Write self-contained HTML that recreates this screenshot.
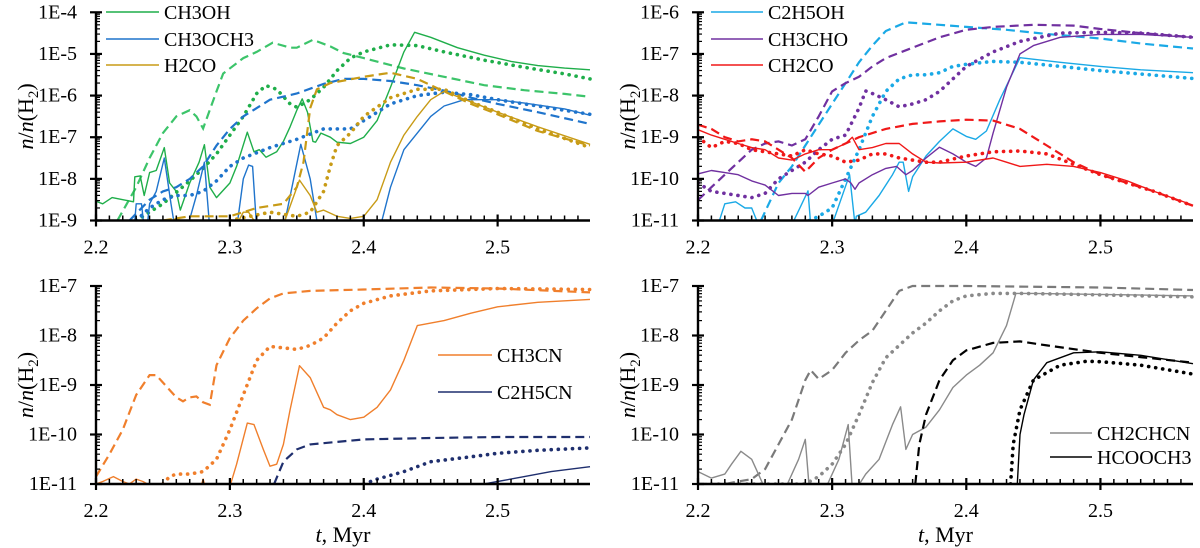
<!DOCTYPE html>
<html><head><meta charset="utf-8">
<style>
html,body{margin:0;padding:0;background:#fff;}
svg{display:block;}
svg text{font-family:"Liberation Serif","DejaVu Serif",serif;}
</style></head>
<body>
<svg id="chart" width="1200" height="548" viewBox="0 0 1200 548" xmlns="http://www.w3.org/2000/svg" font-family="Liberation Serif, serif">
</svg>
<script>
const xTickLabels = ["2.2","2.3","2.4","2.5"];
const xTickValues = [2.2,2.3,2.4,2.5];
const yTicksP1 = [-4,-5,-6,-7,-8,-9];
const yTicksP2 = [-6,-7,-8,-9,-10,-11];
const yTicksP3 = [-7,-8,-9,-10,-11];
const yTicksP4 = [-7,-8,-9,-10,-11];
const ch3oh_solid=[[2.2,-8.54],[2.205,-8.6],[2.212,-8.45],[2.22,-8.5],[2.228,-8.55],[2.229,-7.95],[2.233,-7.93],[2.236,-8.4],[2.24,-7.85],[2.245,-7.8],[2.251,-7.25],[2.255,-8.1],[2.26,-8.3],[2.263,-8.75],[2.27,-8.1],[2.277,-7.6],[2.281,-7.18],[2.285,-8.2],[2.29,-8.45],[2.3,-8.1],[2.305,-7.7],[2.313,-6.88],[2.318,-7.35],[2.322,-7.3],[2.327,-7.48],[2.335,-7.35],[2.34,-7.1],[2.345,-6.75],[2.35,-6.35],[2.354,-6.08],[2.358,-6.4],[2.362,-7.1],[2.364,-7.12],[2.368,-6.9],[2.375,-7.0],[2.38,-7.12],[2.39,-7.15],[2.4,-7.0],[2.41,-6.6],[2.42,-5.8],[2.43,-4.95],[2.438,-4.48],[2.45,-4.6],[2.47,-4.85],[2.49,-5.03],[2.51,-5.18],[2.53,-5.28],[2.55,-5.34],[2.569,-5.38]];
const ch3oh_dashed=[[2.216,-9],[2.23,-8.2],[2.24,-7.5],[2.25,-6.9],[2.26,-6.5],[2.27,-6.35],[2.275,-6.5],[2.28,-6.79],[2.29,-5.9],[2.295,-5.47],[2.31,-5.1],[2.32,-4.95],[2.332,-4.73],[2.345,-4.85],[2.35,-4.85],[2.362,-4.66],[2.375,-4.82],[2.385,-4.98],[2.4,-5.1],[2.43,-5.35],[2.46,-5.55],[2.49,-5.75],[2.52,-5.87],[2.55,-5.96],[2.569,-6.03]];
const ch3oh_dotted=[[2.23,-9],[2.25,-8.6],[2.27,-8.05],[2.28,-7.75],[2.29,-7.4],[2.3,-6.95],[2.31,-6.5],[2.32,-5.95],[2.327,-5.76],[2.335,-5.85],[2.345,-6.2],[2.35,-6.28],[2.36,-6.1],[2.37,-5.8],[2.38,-5.4],[2.39,-5.1],[2.4,-4.95],[2.42,-4.78],[2.44,-4.8],[2.46,-4.95],[2.49,-5.15],[2.52,-5.32],[2.55,-5.48],[2.569,-5.6]];
const ch3och3_solid=[[2.229,-9],[2.23,-8.6],[2.234,-8.6],[2.236,-9.2],null,[2.238,-9.2],[2.24,-8.6],[2.245,-8.3],[2.251,-7.5],[2.256,-8.6],[2.259,-9.2],null,[2.268,-9.2],[2.275,-8.4],[2.281,-7.6],[2.285,-9.2],null,[2.305,-9.2],[2.31,-8],[2.314,-7.67],[2.317,-7.7],[2.32,-9.2],null,[2.34,-9.2],[2.353,-7.17],[2.36,-8],[2.366,-9.2],null,[2.412,-9.2],[2.42,-8.2],[2.43,-7.3],[2.44,-6.9],[2.45,-6.5],[2.46,-6.25],[2.475,-6.1],[2.5,-6.1],[2.52,-6.18],[2.55,-6.32],[2.569,-6.47]];
const ch3och3_dashed=[[2.225,-9],[2.24,-8.5],[2.25,-8.3],[2.26,-8.2],[2.27,-8.0],[2.28,-7.7],[2.29,-7.2],[2.3,-6.8],[2.31,-6.5],[2.32,-6.3],[2.33,-6.1],[2.35,-5.95],[2.37,-5.72],[2.385,-5.6],[2.4,-5.6],[2.42,-5.65],[2.44,-5.75],[2.46,-5.88],[2.48,-6.05],[2.5,-6.2],[2.53,-6.4],[2.569,-6.68]];
const ch3och3_dotted=[[2.23,-9],[2.24,-8.7],[2.25,-8.5],[2.26,-8.4],[2.27,-8.4],[2.28,-8.3],[2.29,-8.05],[2.3,-7.7],[2.31,-7.5],[2.33,-7.25],[2.35,-7.05],[2.37,-6.8],[2.38,-6.8],[2.39,-6.8],[2.4,-6.6],[2.42,-6.2],[2.44,-6.0],[2.46,-5.92],[2.48,-5.98],[2.5,-6.1],[2.53,-6.25],[2.569,-6.45]];
const h2co_solid=[[2.25,-9.1],[2.26,-8.95],[2.27,-9.1],null,[2.305,-9.1],[2.31,-8.8],[2.314,-8.8],[2.32,-9.1],null,[2.34,-9.1],[2.352,-8.03],[2.36,-8.4],[2.365,-8.8],[2.37,-8.75],[2.38,-8.9],[2.39,-8.95],[2.4,-8.9],[2.41,-8.5],[2.42,-7.6],[2.43,-6.95],[2.44,-6.5],[2.45,-6.1],[2.46,-5.9],[2.48,-6.15],[2.5,-6.4],[2.53,-6.75],[2.569,-7.17]];
const h2co_dashed=[[2.25,-9],[2.27,-8.9],[2.3,-8.9],[2.32,-8.7],[2.34,-8.6],[2.35,-8.2],[2.355,-7.6],[2.36,-6.3],[2.365,-5.85],[2.375,-5.7],[2.4,-5.55],[2.42,-5.45],[2.44,-5.6],[2.46,-5.9],[2.48,-6.2],[2.5,-6.45],[2.53,-6.85],[2.569,-7.2]];
const h2co_dotted=[[2.3,-9],[2.33,-8.8],[2.35,-8.9],[2.36,-8.8],[2.37,-8.3],[2.375,-7.7],[2.38,-7.2],[2.39,-6.9],[2.4,-6.5],[2.42,-6.05],[2.44,-5.85],[2.46,-5.85],[2.48,-6.15],[2.5,-6.4],[2.53,-6.8],[2.569,-7.25]];

const c2h5oh_solid=[[2.215,-11.1],[2.22,-10.6],[2.228,-10.55],[2.235,-10.7],[2.24,-10.7],[2.245,-11.1],null,[2.27,-11.1],[2.282,-10.29],[2.284,-11.1],null,[2.3,-11.1],[2.313,-9.9],[2.317,-11.1],[2.318,-10.9],[2.325,-10.8],[2.335,-10.4],[2.345,-9.9],[2.35,-9.6],[2.353,-9.6],[2.357,-10.3],[2.36,-9.95],[2.37,-9.45],[2.38,-9.1],[2.39,-8.8],[2.4,-8.98],[2.407,-9.05],[2.415,-8.85],[2.425,-8.1],[2.44,-7.09],[2.47,-7.2],[2.5,-7.3],[2.53,-7.38],[2.569,-7.45]];
const c2h5oh_dashed=[[2.247,-11],[2.26,-10.1],[2.27,-9.7],[2.28,-9.2],[2.29,-8.7],[2.3,-8.2],[2.31,-7.7],[2.32,-7.2],[2.33,-6.8],[2.34,-6.45],[2.355,-6.24],[2.38,-6.3],[2.4,-6.35],[2.43,-6.42],[2.46,-6.52],[2.5,-6.63],[2.53,-6.75],[2.569,-6.87]];
const c2h5oh_dotted=[[2.283,-11],[2.29,-10.9],[2.3,-10.7],[2.31,-10],[2.32,-9.3],[2.33,-8.5],[2.34,-7.9],[2.35,-7.6],[2.36,-7.5],[2.37,-7.5],[2.38,-7.45],[2.39,-7.3],[2.4,-7.25],[2.42,-7.18],[2.44,-7.2],[2.47,-7.3],[2.5,-7.4],[2.569,-7.59]];
const ch3cho_solid=[[2.2,-9.88],[2.21,-9.8],[2.22,-9.85],[2.23,-9.9],[2.24,-10.05],[2.25,-10.15],[2.26,-10.4],[2.27,-10.35],[2.28,-10.35],[2.282,-10.4],[2.29,-10.2],[2.3,-10.1],[2.31,-10.0],[2.314,-10.1],[2.317,-10.25],[2.32,-10.1],[2.33,-9.9],[2.34,-9.75],[2.348,-9.7],[2.355,-9.9],[2.36,-9.8],[2.37,-9.5],[2.38,-9.24],[2.39,-9.4],[2.4,-9.6],[2.407,-9.7],[2.415,-9.5],[2.42,-8.9],[2.43,-7.8],[2.44,-7.0],[2.45,-6.8],[2.47,-6.6],[2.5,-6.53],[2.53,-6.53],[2.569,-6.6]];
const ch3cho_dashed=[[2.2,-10.51],[2.21,-10.2],[2.22,-9.9],[2.23,-9.6],[2.24,-9.3],[2.25,-9.15],[2.26,-9.1],[2.27,-9.2],[2.28,-9.05],[2.29,-8.5],[2.3,-7.9],[2.31,-7.7],[2.32,-7.55],[2.33,-7.3],[2.34,-7.1],[2.36,-6.85],[2.38,-6.6],[2.4,-6.42],[2.42,-6.35],[2.45,-6.3],[2.48,-6.32],[2.5,-6.4],[2.53,-6.5],[2.569,-6.6]];
const ch3cho_dotted=[[2.2,-10.1],[2.21,-10.3],[2.22,-10.35],[2.24,-10.45],[2.25,-10.35],[2.26,-10.0],[2.27,-9.8],[2.28,-9.6],[2.29,-9.3],[2.3,-9.05],[2.31,-8.95],[2.32,-8.3],[2.325,-7.89],[2.33,-7.95],[2.34,-8.1],[2.35,-8.27],[2.36,-8.2],[2.37,-8.1],[2.38,-7.9],[2.39,-7.6],[2.4,-7.3],[2.42,-6.95],[2.44,-6.7],[2.47,-6.5],[2.5,-6.48],[2.53,-6.5],[2.569,-6.6]];
const ch2co_solid=[[2.2,-8.82],[2.21,-8.95],[2.22,-9.05],[2.23,-9.15],[2.24,-9.25],[2.25,-9.3],[2.26,-9.5],[2.27,-9.55],[2.28,-9.4],[2.29,-9.3],[2.3,-9.3],[2.31,-9.15],[2.315,-9.0],[2.32,-9.3],[2.33,-9.25],[2.34,-9.15],[2.35,-9.15],[2.36,-9.4],[2.37,-9.6],[2.38,-9.62],[2.4,-9.6],[2.42,-9.5],[2.43,-9.6],[2.44,-9.7],[2.46,-9.65],[2.48,-9.7],[2.5,-9.85],[2.52,-10.05],[2.54,-10.3],[2.569,-10.63]];
const ch2co_dashed=[[2.2,-8.7],[2.21,-8.8],[2.22,-9.0],[2.23,-9.1],[2.24,-9.05],[2.25,-9.1],[2.26,-9.3],[2.27,-9.5],[2.28,-9.83],[2.29,-9.5],[2.3,-9.3],[2.32,-9.0],[2.34,-8.8],[2.36,-8.68],[2.38,-8.62],[2.4,-8.58],[2.42,-8.6],[2.44,-8.8],[2.46,-9.2],[2.48,-9.6],[2.5,-9.9],[2.52,-10.1],[2.54,-10.3],[2.569,-10.65]];
const ch2co_dotted=[[2.2,-9.0],[2.21,-9.25],[2.22,-9.1],[2.23,-9.15],[2.24,-9.3],[2.25,-9.35],[2.26,-9.4],[2.27,-9.45],[2.28,-9.3],[2.29,-9.4],[2.3,-9.45],[2.31,-9.6],[2.32,-9.55],[2.33,-9.4],[2.34,-9.4],[2.35,-9.5],[2.36,-9.55],[2.37,-9.6],[2.38,-9.6],[2.4,-9.45],[2.42,-9.35],[2.44,-9.33],[2.46,-9.4],[2.48,-9.65],[2.5,-9.9],[2.54,-10.3],[2.569,-10.65]];

const ch3cn_solid=[[2.2,-11],[2.205,-10.95],[2.213,-10.85],[2.22,-10.95],[2.225,-11],[2.23,-10.9],[2.235,-10.95],[2.245,-11.1],null,[2.278,-11.1],[2.28,-10.9],[2.282,-11.1],null,[2.3,-11.05],[2.305,-10.6],[2.313,-9.77],[2.318,-9.8],[2.325,-10.3],[2.33,-10.64],[2.335,-10.6],[2.34,-10.2],[2.345,-9.5],[2.352,-8.61],[2.36,-8.85],[2.37,-9.45],[2.375,-9.5],[2.38,-9.6],[2.39,-9.7],[2.4,-9.65],[2.41,-9.45],[2.42,-9.1],[2.43,-8.5],[2.44,-7.8],[2.46,-7.7],[2.48,-7.55],[2.5,-7.42],[2.53,-7.33],[2.569,-7.27]];
const ch3cn_dashed=[[2.2,-10.85],[2.21,-10.4],[2.22,-9.9],[2.23,-9.2],[2.24,-8.8],[2.245,-8.8],[2.25,-8.95],[2.26,-9.25],[2.265,-9.33],[2.27,-9.25],[2.275,-9.23],[2.28,-9.35],[2.285,-9.4],[2.29,-8.6],[2.3,-8.05],[2.31,-7.7],[2.32,-7.45],[2.33,-7.25],[2.34,-7.15],[2.36,-7.1],[2.4,-7.07],[2.45,-7.03],[2.5,-7.05],[2.569,-7.13]];
const ch3cn_dotted=[[2.25,-11],[2.255,-10.85],[2.26,-10.8],[2.27,-10.8],[2.28,-10.75],[2.29,-10.5],[2.3,-9.9],[2.31,-9.2],[2.32,-8.5],[2.33,-8.22],[2.34,-8.25],[2.35,-8.28],[2.36,-8.2],[2.37,-8.05],[2.38,-7.75],[2.39,-7.5],[2.4,-7.35],[2.42,-7.2],[2.45,-7.1],[2.5,-7.05],[2.569,-7.07]];
const c2h5cn_solid=[[2.49,-11],[2.5,-10.95],[2.52,-10.85],[2.54,-10.75],[2.569,-10.65]];
const c2h5cn_dashed=[[2.333,-11],[2.34,-10.55],[2.35,-10.3],[2.36,-10.2],[2.38,-10.15],[2.4,-10.1],[2.45,-10.07],[2.5,-10.05],[2.569,-10.05]];
const c2h5cn_dotted=[[2.4,-11],[2.41,-10.9],[2.43,-10.75],[2.45,-10.55],[2.48,-10.45],[2.5,-10.38],[2.53,-10.32],[2.569,-10.27]];

const ch2chcn_solid=[[2.2,-10.75],[2.21,-10.88],[2.22,-10.8],[2.225,-10.6],[2.232,-10.34],[2.24,-10.5],[2.245,-10.8],[2.25,-11.1],null,[2.265,-11.1],[2.275,-10.5],[2.28,-10.1],[2.283,-11.1],null,[2.295,-11.1],[2.305,-10.5],[2.312,-9.8],[2.315,-11.1],null,[2.318,-11.1],[2.325,-10.8],[2.335,-10.5],[2.345,-9.8],[2.351,-9.44],[2.355,-10.3],[2.36,-10.0],[2.37,-9.85],[2.38,-9.5],[2.39,-9.05],[2.4,-8.8],[2.41,-8.6],[2.42,-8.35],[2.43,-7.8],[2.437,-7.15],[2.45,-7.15],[2.5,-7.17],[2.569,-7.2]];
const ch2chcn_dashed=[[2.2,-11],[2.22,-11],[2.23,-10.95],[2.24,-10.9],[2.25,-10.7],[2.26,-10.2],[2.27,-9.7],[2.28,-8.9],[2.284,-8.7],[2.29,-8.88],[2.3,-8.7],[2.31,-8.35],[2.32,-8.1],[2.33,-7.9],[2.34,-7.5],[2.35,-7.1],[2.36,-7.0],[2.4,-7.0],[2.5,-7.03],[2.569,-7.08]];
const ch2chcn_dotted=[[2.21,-11],[2.25,-11],[2.28,-11],[2.29,-10.85],[2.3,-10.6],[2.31,-10.2],[2.32,-9.6],[2.33,-8.95],[2.34,-8.45],[2.35,-8.2],[2.36,-7.95],[2.37,-7.75],[2.38,-7.5],[2.39,-7.3],[2.4,-7.2],[2.42,-7.15],[2.44,-7.15],[2.5,-7.18],[2.569,-7.22]];
const hcooch3_solid=[[2.438,-11],[2.44,-10.0],[2.443,-9.6],[2.45,-8.9],[2.46,-8.55],[2.48,-8.35],[2.5,-8.33],[2.53,-8.4],[2.569,-8.57]];
const hcooch3_dashed=[[2.362,-11],[2.365,-10.2],[2.37,-9.6],[2.38,-8.9],[2.39,-8.5],[2.4,-8.3],[2.42,-8.15],[2.44,-8.12],[2.46,-8.2],[2.5,-8.35],[2.569,-8.55]];
const hcooch3_dotted=[[2.433,-11],[2.435,-10.2],[2.44,-9.5],[2.45,-8.9],[2.47,-8.6],[2.49,-8.52],[2.5,-8.53],[2.53,-8.6],[2.569,-8.78]];

const NS="http://www.w3.org/2000/svg";
const FONT="Liberation Serif, DejaVu Serif, serif";
const svg=document.getElementById('chart');
function mk(tag,attrs,parent){const e=document.createElementNS(NS,tag);for(const k in attrs)e.setAttribute(k,attrs[k]);(parent||svg).appendChild(e);return e;}

const X0=2.2,X1=2.569;
const panels=[
 {id:'p1',left:96,right:590,top:12.3,bottom:220.5,ymax:-4,ymin:-9,ticks:yTicksP1,xlabel:false,
  series:[['ch3oh',ch3oh_solid,ch3oh_dashed,ch3oh_dotted,'#1fae4a','#3cc46a'],['ch3och3',ch3och3_solid,ch3och3_dashed,ch3och3_dotted,'#1f74cc','#1f74cc'],['h2co',h2co_solid,h2co_dashed,h2co_dotted,'#c89b16','#c89b16']],
  legend:{x1:106,x2:159,tx:164,ys:[12,39,65],names:['CH3OH','CH3OCH3','H2CO'],colors:['#1fae4a','#1f74cc','#c89b16']}},
 {id:'p2',left:698,right:1193,top:12.3,bottom:220.5,ymax:-6,ymin:-11,ticks:yTicksP2,xlabel:false,
  series:[['c2h5oh',c2h5oh_solid,c2h5oh_dashed,c2h5oh_dotted,'#1aa9e6','#1aa9e6'],['ch3cho',ch3cho_solid,ch3cho_dashed,ch3cho_dotted,'#7030a0','#7030a0'],['ch2co',ch2co_solid,ch2co_dashed,ch2co_dotted,'#f01818','#f01818']],
  legend:{x1:711,x2:763,tx:768,ys:[12,39,65],names:['C2H5OH','CH3CHO','CH2CO'],colors:['#1aa9e6','#7030a0','#f01818']}},
 {id:'p3',left:96,right:590,top:286,bottom:484,ymax:-7,ymin:-11,ticks:yTicksP3,xlabel:true,
  series:[['ch3cn',ch3cn_solid,ch3cn_dashed,ch3cn_dotted,'#f07f2c','#f07f2c'],['c2h5cn',c2h5cn_solid,c2h5cn_dashed,c2h5cn_dotted,'#1f2f6e','#1f2f6e']],
  legend:{x1:438,x2:492,tx:497,ys:[355,392],names:['CH3CN','C2H5CN'],colors:['#f07f2c','#1f2f6e']}},
 {id:'p4',left:698,right:1193,top:286,bottom:484,ymax:-7,ymin:-11,ticks:yTicksP4,xlabel:true,
  series:[['ch2chcn',ch2chcn_solid,ch2chcn_dashed,ch2chcn_dotted,'#8a8a8a','#7a7a7a'],['hcooch3',hcooch3_solid,hcooch3_dashed,hcooch3_dotted,'#000000','#000000']],
  legend:{x1:1050,x2:1092,tx:1097,ys:[433,457],names:['CH2CHCN','HCOOCH3'],colors:['#8a8a8a','#000000']}}
];

panels.forEach(p=>{
  const g=mk('g',{});
  
  
  const xs=t=>p.left+(t-X0)/(X1-X0)*(p.right-p.left);
  const ys=v=>p.top+(p.ymax-v)/(p.ymax-p.ymin)*(p.bottom-p.top);
  const cp=mk('clipPath',{id:'clip-'+p.id},g);
  mk('rect',{x:p.left,y:p.top-2,width:p.right-p.left+2,height:p.bottom-p.top+2},cp);
  const plot=mk('g',{'clip-path':'url(#clip-'+p.id+')'},g);
  
  
  function path(data){let d='',pen=false;data.forEach(pt=>{if(!pt){pen=false;return;}d+=(pen?'L':'M')+xs(pt[0]).toFixed(1)+','+ys(pt[1]).toFixed(1);pen=true;});return d;}
  p.series.forEach(s=>{
    const [nm,so,da,dot,col,dcol]=s;
    const l1=mk('path',{d:path(da),fill:'none',stroke:dcol,'stroke-width':2.2,'stroke-dasharray':'9,5'},plot);
    
    
    const l2=mk('path',{d:path(dot),fill:'none',stroke:col,'stroke-width':3.6,'stroke-dasharray':'0.1,7','stroke-linecap':'round'},plot);
    
    
    const l3=mk('path',{d:path(so),fill:'none',stroke:col,'stroke-width':1.4,'stroke-linejoin':'round'},plot);
    
    
  });
  const ax=mk('g',{stroke:'#000'},g);
  
  
  mk('line',{x1:p.left,y1:p.top,x2:p.left,y2:p.bottom,'stroke-width':2.4},ax);
  mk('line',{x1:p.left-1,y1:p.bottom,x2:p.right,y2:p.bottom,'stroke-width':2.4},ax);
  for(let i=1;i<=36;i++){const t=X0+i*0.01;if(i%10===0)continue;const x=xs(t);mk('line',{x1:x,y1:p.bottom,x2:x,y2:p.bottom-5,'stroke-width':1.5},ax);}
  xTickValues.forEach((t,i)=>{const x=xs(t);mk('line',{x1:x,y1:p.bottom-6,x2:x,y2:p.bottom+6,'stroke-width':2.2},ax);
    const tx=mk('text',{x:x,y:p.bottom+33,'text-anchor':'middle','font-size':20,'font-family':FONT,fill:'#000',stroke:'none'},g);tx.textContent=xTickLabels[i];
    
    });
  p.ticks.forEach(v=>{const y=ys(v);mk('line',{x1:p.left-6,y1:y,x2:p.left+6,y2:y,'stroke-width':2.2},ax);
    const tx=mk('text',{x:p.left-19,y:y+6,'text-anchor':'end','font-size':20,'font-family':FONT,fill:'#000',stroke:'none'},g);tx.textContent='1E'+v;
    
    
    if(v>p.ymin){for(let k=2;k<=9;k++){const yy=ys(v-1+Math.log10(k));mk('line',{x1:p.left,y1:yy,x2:p.left+4,y2:yy,'stroke-width':1.2},ax);}}
  });
  const yt=mk('text',{transform:`translate(${p.left-63},${(p.top+p.bottom)/2}) rotate(-90)`,'text-anchor':'middle','font-size':22,'font-family':FONT,fill:'#000'},g);
  yt.innerHTML='<tspan font-style="italic">n</tspan>/<tspan font-style="italic">n</tspan>(H<tspan font-size="15" dy="5">2</tspan><tspan dy="-5">)</tspan>';
  
  
  if(p.xlabel){const xt=mk('text',{x:(p.left+p.right)/2,y:542,'text-anchor':'middle','font-size':22,'font-family':FONT,fill:'#000'},g);
    xt.innerHTML='<tspan font-style="italic">t</tspan>, Myr';
    
    }
  const lg=mk('g',{},g);
  
  
  p.legend.names.forEach((n,i)=>{const y=p.legend.ys[i];
    const e=mk('g',{},lg);
    
    
    mk('line',{x1:p.legend.x1,y1:y,x2:p.legend.x2,y2:y,stroke:p.legend.colors[i],'stroke-width':1.6},e);
    const t=mk('text',{x:p.legend.tx,y:y+7,'font-size':20,'font-family':FONT,fill:'#000'},e);t.textContent=n;});
});
</script>
</body></html>
